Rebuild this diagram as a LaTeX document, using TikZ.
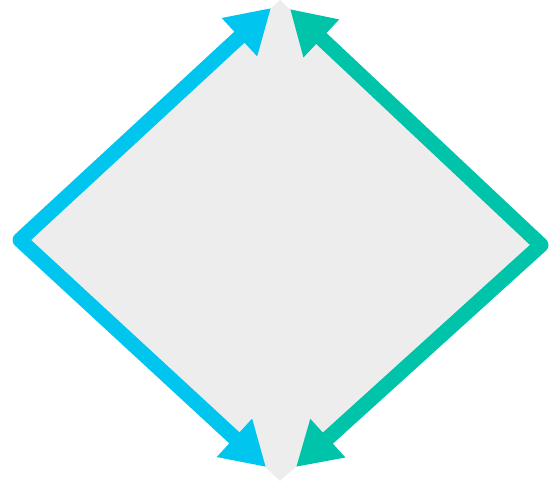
\documentclass[tikz,border=0pt]{standalone}
\usetikzlibrary{arrows.meta}
\definecolor{diamondBg}{HTML}{EDEDED}
\definecolor{leftBlue}{HTML}{00C5EF}
\definecolor{rightGreen}{HTML}{00C4AA}

\begin{document}
\begin{tikzpicture}[
    x=1pt, y=-1pt,
    sidearrow/.style={
        {Triangle[length=43pt,width=49pt]}-{Triangle[length=43pt,width=49pt]},
        line width=15pt, line join=round
    },
]
\useasboundingbox (0,0) rectangle (552,485);

% ============================================================
%  CORNERS
% ============================================================
\coordinate (topC) at (280,0);
\coordinate (leftC) at (20,240);
\coordinate (rightC) at (541,245);
\coordinate (botC) at (280,481);

\coordinate (blueTop) at (271,8);
\coordinate (blueBot) at (266,467);
\coordinate (greenTop) at (290,9);
\coordinate (greenBot) at (296,467);

% ============================================================
%  DIAMOND
% ============================================================
\fill[diamondBg] (topC) -- (rightC) -- (botC) -- (leftC) -- cycle;

% ============================================================
%  SIDES
% ============================================================
\draw[sidearrow, leftBlue] (blueTop) -- (leftC) -- (blueBot);
\draw[sidearrow, rightGreen] (greenTop) -- (rightC) -- (greenBot);

\end{tikzpicture}
\end{document}
